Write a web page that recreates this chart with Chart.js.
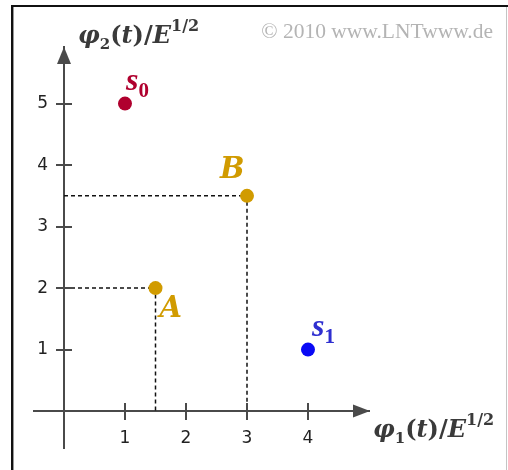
<!DOCTYPE html>
<html>
<head>
<meta charset="utf-8">
<script src="https://cdn.jsdelivr.net/npm/chart.js@4.4.1/dist/chart.umd.min.js"></script>
<style>
    html, body { margin: 0; padding: 0; background: #fff; }
    #wrap { width: 508px; height: 470px; }
</style>
</head>
<body>
<div id="wrap"><canvas id="signalChart" width="508" height="470"></canvas></div>
<script>
// signal space points, values in units of E^1/2
var pointNames = ['s0', 's1', 'A', 'B'];
var phi1Values = [1, 4, 1.5, 3];
var phi2Values = [5, 1, 2, 3.5];
var guidePoints = ['A', 'B'];
var xTicks = [1, 2, 3, 4];
var yTicks = [1, 2, 3, 4, 5];

var axisColor = '#4a4a4a';
var titleColor = '#3a3a3a';
var colors = { s0: '#b0002e', s1: '#0a0af5', A: '#d19b00', B: '#d19b00' };
var labelColors = { s0: '#b0002e', s1: '#2f2fd0', A: '#d19b00', B: '#d19b00' };

// label text runs, offset from the point (px)
var pointLabels = {
    s0: { dx: 1, dy: -14, sub: '0' },
    s1: { dx: 4, dy: -14, sub: '1' },
    A:  { dx: 4, dy: 29 },
    B:  { dx: -27, dy: -18 }
};

var points = pointNames.map(function (name, i) {
    return { x: phi1Values[i], y: phi2Values[i] };
});

var guideSets = guidePoints.map(function (name) {
    var i = pointNames.indexOf(name);
    return {
        type: 'line',
        data: [
            { x: 0, y: phi2Values[i] },
            { x: phi1Values[i], y: phi2Values[i] },
            { x: phi1Values[i], y: 0 }
        ],
        borderColor: '#111',
        borderWidth: 1.5,
        borderDash: [4, 3],
        pointRadius: 0,
        fill: false
    };
});

var drawRuns = function (ctx, x, y, runs) {
    ctx.textBaseline = 'alphabetic';
    ctx.textAlign = 'left';
    runs.forEach(function (r) {
        ctx.font = r[1];
        ctx.fillText(r[0], x, y + (r[2] || 0));
        x += ctx.measureText(r[0]).width;
    });
};

var titleRuns = function (sub) {
    return [
        ['\u03c6', 'italic bold 24px "DejaVu Serif"'],
        [sub, 'bold 15px "DejaVu Serif"', 6],
        ['(', 'bold 24px "DejaVu Serif"'],
        ['t', 'italic bold 24px "DejaVu Serif"'],
        [')', 'bold 24px "DejaVu Serif"'],
        ['/', 'bold 24px "DejaVu Serif"'],
        ['E', 'italic bold 24px "DejaVu Serif"'],
        ['1/2', 'bold 16px "DejaVu Serif"', -12]
    ];
};

var framePlugin = {
    id: 'frame',
    beforeDraw: function (chart) {
        var ctx = chart.ctx;
        ctx.save();
        ctx.fillStyle = '#fff';
        ctx.fillRect(0, 0, chart.width, chart.height);
        ctx.fillStyle = '#111';
        ctx.fillRect(11, 5, 497, 2);
        ctx.fillRect(11, 5, 2, 465);
        ctx.fillStyle = '#999';
        ctx.fillRect(13, 7, 1, 463);
        ctx.fillStyle = '#c4c4c4';
        ctx.fillRect(506, 7, 1, 463);
        ctx.restore();
    }
};

var axisPlugin = {
    id: 'axisDeco',
    afterDraw: function (chart) {
        var ctx = chart.ctx;
        var xs = chart.scales.x, ys = chart.scales.y;
        var ox = xs.getPixelForValue(0), oy = ys.getPixelForValue(0);
        var area = chart.chartArea;
        ctx.save();
        ctx.strokeStyle = axisColor;
        ctx.fillStyle = axisColor;
        ctx.lineWidth = 2;
        // x axis continues a bit left of the origin
        ctx.beginPath();
        ctx.moveTo(ox - 31, Math.round(oy));
        ctx.lineTo(ox, Math.round(oy));
        ctx.stroke();
        // other half of the tick marks
        xTicks.forEach(function (v) {
            var px = Math.round(xs.getPixelForValue(v));
            ctx.beginPath();
            ctx.moveTo(px, oy);
            ctx.lineTo(px, oy - 8);
            ctx.stroke();
        });
        yTicks.forEach(function (v) {
            var py = Math.round(ys.getPixelForValue(v));
            ctx.beginPath();
            ctx.moveTo(ox, py);
            ctx.lineTo(ox + 8, py);
            ctx.stroke();
        });
        // arrow heads
        ctx.beginPath();
        ctx.moveTo(ox, area.top);
        ctx.lineTo(ox - 7, area.top + 17);
        ctx.lineTo(ox + 7, area.top + 17);
        ctx.closePath();
        ctx.fill();
        ctx.beginPath();
        ctx.moveTo(area.right + 1, oy);
        ctx.lineTo(area.right - 16, oy - 6.5);
        ctx.lineTo(area.right - 16, oy + 6.5);
        ctx.closePath();
        ctx.fill();

        // axis titles
        ctx.fillStyle = titleColor;
        drawRuns(ctx, 78, 43, titleRuns('2'));
        drawRuns(ctx, 373, 437, titleRuns('1'));

        // copyright
        ctx.fillStyle = '#b4b4b4';
        ctx.font = '21.5px "Liberation Serif"';
        ctx.textAlign = 'right';
        ctx.fillText('\u00a9 2010 www.LNTwww.de', 493, 38);

        // point labels
        pointNames.forEach(function (name, i) {
            var lab = pointLabels[name];
            var px = xs.getPixelForValue(phi1Values[i]) + lab.dx;
            var py = ys.getPixelForValue(phi2Values[i]) + lab.dy;
            ctx.fillStyle = labelColors[name];
            if (lab.sub) {
                drawRuns(ctx, px, py, [
                    ['s', 'italic bold 32px "Liberation Serif"'],
                    [lab.sub, 'bold 21px "Liberation Serif"', 7]
                ]);
            } else {
                drawRuns(ctx, px, py, [[name, 'italic bold 29px "DejaVu Serif"']]);
            }
        });
        ctx.restore();
    }
};

var tickFont = { family: '"DejaVu Sans"', size: 17 };

var ctxS = document.getElementById('signalChart').getContext('2d');
var signalChart = new Chart(ctxS, {
    type: 'scatter',
    data: {
        datasets: [
            {
                data: points,
                pointRadius: 7,
                pointHoverRadius: 7,
                pointBorderWidth: 0,
                pointBackgroundColor: pointNames.map(function (n) { return colors[n]; }),
                pointBorderColor: pointNames.map(function (n) { return colors[n]; })
            }
        ].concat(guideSets)
    },
    options: {
        responsive: false,
        animation: false,
        layout: { padding: { left: 34, right: 139, top: 47, bottom: 22 } },
        plugins: {
            legend: { display: false },
            tooltip: { enabled: false }
        },
        scales: {
            x: {
                type: 'linear',
                min: 0,
                max: 5.0,
                position: { y: 0 },
                afterBuildTicks: function (axis) {
                    axis.ticks = xTicks.map(function (v) { return { value: v }; });
                },
                border: { color: axisColor, width: 2 },
                grid: { drawOnChartArea: false, color: axisColor, lineWidth: 2, tickLength: 8 },
                ticks: { font: tickFont, color: '#222', padding: 9, maxRotation: 0, autoSkip: false }
            },
            y: {
                type: 'linear',
                min: -0.6,
                max: 5.92,
                position: 'left',
                afterFit: function (axis) { axis.width = 30; },
                afterBuildTicks: function (axis) {
                    axis.ticks = yTicks.map(function (v) { return { value: v }; });
                },
                border: { color: axisColor, width: 2 },
                grid: { drawOnChartArea: false, color: axisColor, lineWidth: 2, tickLength: 8 },
                ticks: { font: tickFont, color: '#222', padding: 8, autoSkip: false }
            }
        }
    },
    plugins: [framePlugin, axisPlugin]
});
</script>
</body>
</html>
